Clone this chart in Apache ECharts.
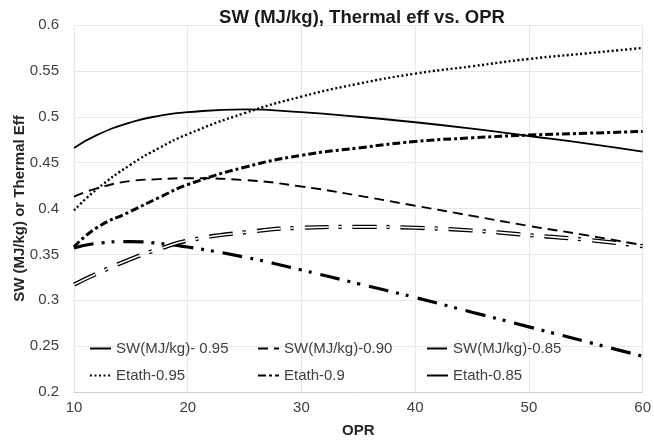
<!DOCTYPE html>
<html>
<head>
<meta charset="utf-8">
<script src="https://cdn.jsdelivr.net/npm/echarts@6/dist/echarts.min.js"></script>
<style>
html,body{margin:0;padding:0;background:#fff;}
#chart{width:654px;height:443px;}
</style>
</head>
<body>
<div id="chart"></div>
<script>
// OPR sample points (x values)
const opr   = [10, 12, 15, 17.5, 20, 25, 30, 35, 40, 45, 50, 55, 60];
// Series values
const sw95  = [0.466, 0.480, 0.494, 0.501, 0.505, 0.508, 0.505, 0.500, 0.494, 0.487, 0.479, 0.471, 0.462];
const sw90  = [0.413, 0.422, 0.430, 0.432, 0.433, 0.431, 0.424, 0.414, 0.403, 0.392, 0.381, 0.371, 0.360];
const sw85  = [0.357, 0.362, 0.364, 0.362, 0.358, 0.347, 0.333, 0.318, 0.303, 0.287, 0.271, 0.255, 0.239];
const eta95 = [0.398, 0.421, 0.448, 0.466, 0.481, 0.504, 0.522, 0.536, 0.547, 0.555, 0.563, 0.569, 0.575];
const eta90 = [0.358, 0.379, 0.397, 0.412, 0.426, 0.445, 0.458, 0.466, 0.473, 0.477, 0.480, 0.482, 0.484];
const eta85 = [0.317, 0.329, 0.345, 0.356, 0.365, 0.374, 0.379, 0.380, 0.379, 0.376, 0.371, 0.366, 0.359];
// Series names
const names = ['SW(MJ/kg)- 0.95', 'SW(MJ/kg)-0.90', 'SW(MJ/kg)-0.85', 'Etath-0.95', 'Etath-0.9', 'Etath-0.85'];
// Axis ticks
const xTicks = {min: 10, max: 60, interval: 10};
const yTicks = {min: 0.2, max: 0.6, interval: 0.05};

const pairs = arr => opr.map((x, i) => [x, arr[i]]);
const FONT = '"Liberation Sans", Arial, sans-serif';

function line(name, arr, width, type, color, z) {
  return {
    name: name, type: 'line', smooth: true, symbol: 'none', showSymbol: false,
    data: pairs(arr), z: z || 2, silent: !!z,
    lineStyle: {color: color || '#000', width: width, type: type, cap: 'butt'},
    itemStyle: {color: color || '#000'},
    animation: false
  };
}

const legendPos = [
  {left: 89, top: 341}, {left: 257, top: 341}, {left: 426, top: 341},
  {left: 89, top: 368}, {left: 257, top: 368}, {left: 426, top: 368}
];

const option = {
  backgroundColor: '#fff',
  textStyle: {fontFamily: FONT},
  title: {
    text: 'SW (MJ/kg), Thermal eff vs. OPR',
    left: 357, top: 3, textAlign: 'center',
    textStyle: {fontFamily: FONT, fontSize: 18.5, fontWeight: 'bold', color: '#1a1a1a'}
  },
  legend: names.map((n, i) => ({
    data: [n], left: legendPos[i].left, top: legendPos[i].top,
    itemWidth: 21, itemHeight: 12, padding: 0, selectedMode: false,
    itemStyle: {opacity: 0},
    textStyle: {fontFamily: FONT, fontSize: 15, color: '#404040'}
  })),
  grid: {left: 74, right: 10, top: 25, bottom: 46},
  xAxis: {
    type: 'value', min: xTicks.min, max: xTicks.max, interval: xTicks.interval,
    name: 'OPR', nameLocation: 'middle', nameGap: 31,
    nameTextStyle: {fontFamily: FONT, fontSize: 15, fontWeight: 'bold', color: '#262626'},
    axisLine: {show: true, lineStyle: {color: '#cfcfcf', width: 1}},
    axisTick: {show: false},
    axisLabel: {fontFamily: FONT, fontSize: 15, color: '#404040', margin: 8},
    splitLine: {show: true, lineStyle: {color: '#e8e8e8', width: 1}}
  },
  yAxis: {
    type: 'value', min: yTicks.min, max: yTicks.max, interval: yTicks.interval,
    name: 'SW (MJ/kg) or Thermal Eff', nameLocation: 'middle', nameGap: 47,
    nameMoveOverlap: false,
    nameTextStyle: {fontFamily: FONT, fontSize: 15, fontWeight: 'bold', color: '#262626'},
    axisLine: {show: false},
    axisTick: {show: false},
    axisLabel: {fontFamily: FONT, fontSize: 15, color: '#404040', margin: 15,
      formatter: v => String(+v.toFixed(2))},
    splitLine: {show: true, lineStyle: {color: '#e8e8e8', width: 1}}
  },
  series: [
    line(names[0], sw95, 1.8, 'solid'),
    line(names[1], sw90, 1.9, [10, 6]),
    line(names[2], sw85, 3.2, [20, 8, 3, 7, 3, 9]),
    line(names[3], eta95, 2.4, [2, 2.5]),
    line(names[4], eta90, 3, [8, 3, 3, 3]),
    line(names[5], eta85, 4.2, [24, 10, 3, 11]),
    line('eta85-inner', eta85, 1.6, [24, 10, 3, 11], '#ffffff', 3)
  ]
};

const chart = echarts.init(document.getElementById('chart'), null, {renderer: 'canvas'});
chart.setOption(option);
</script>
</body>
</html>
